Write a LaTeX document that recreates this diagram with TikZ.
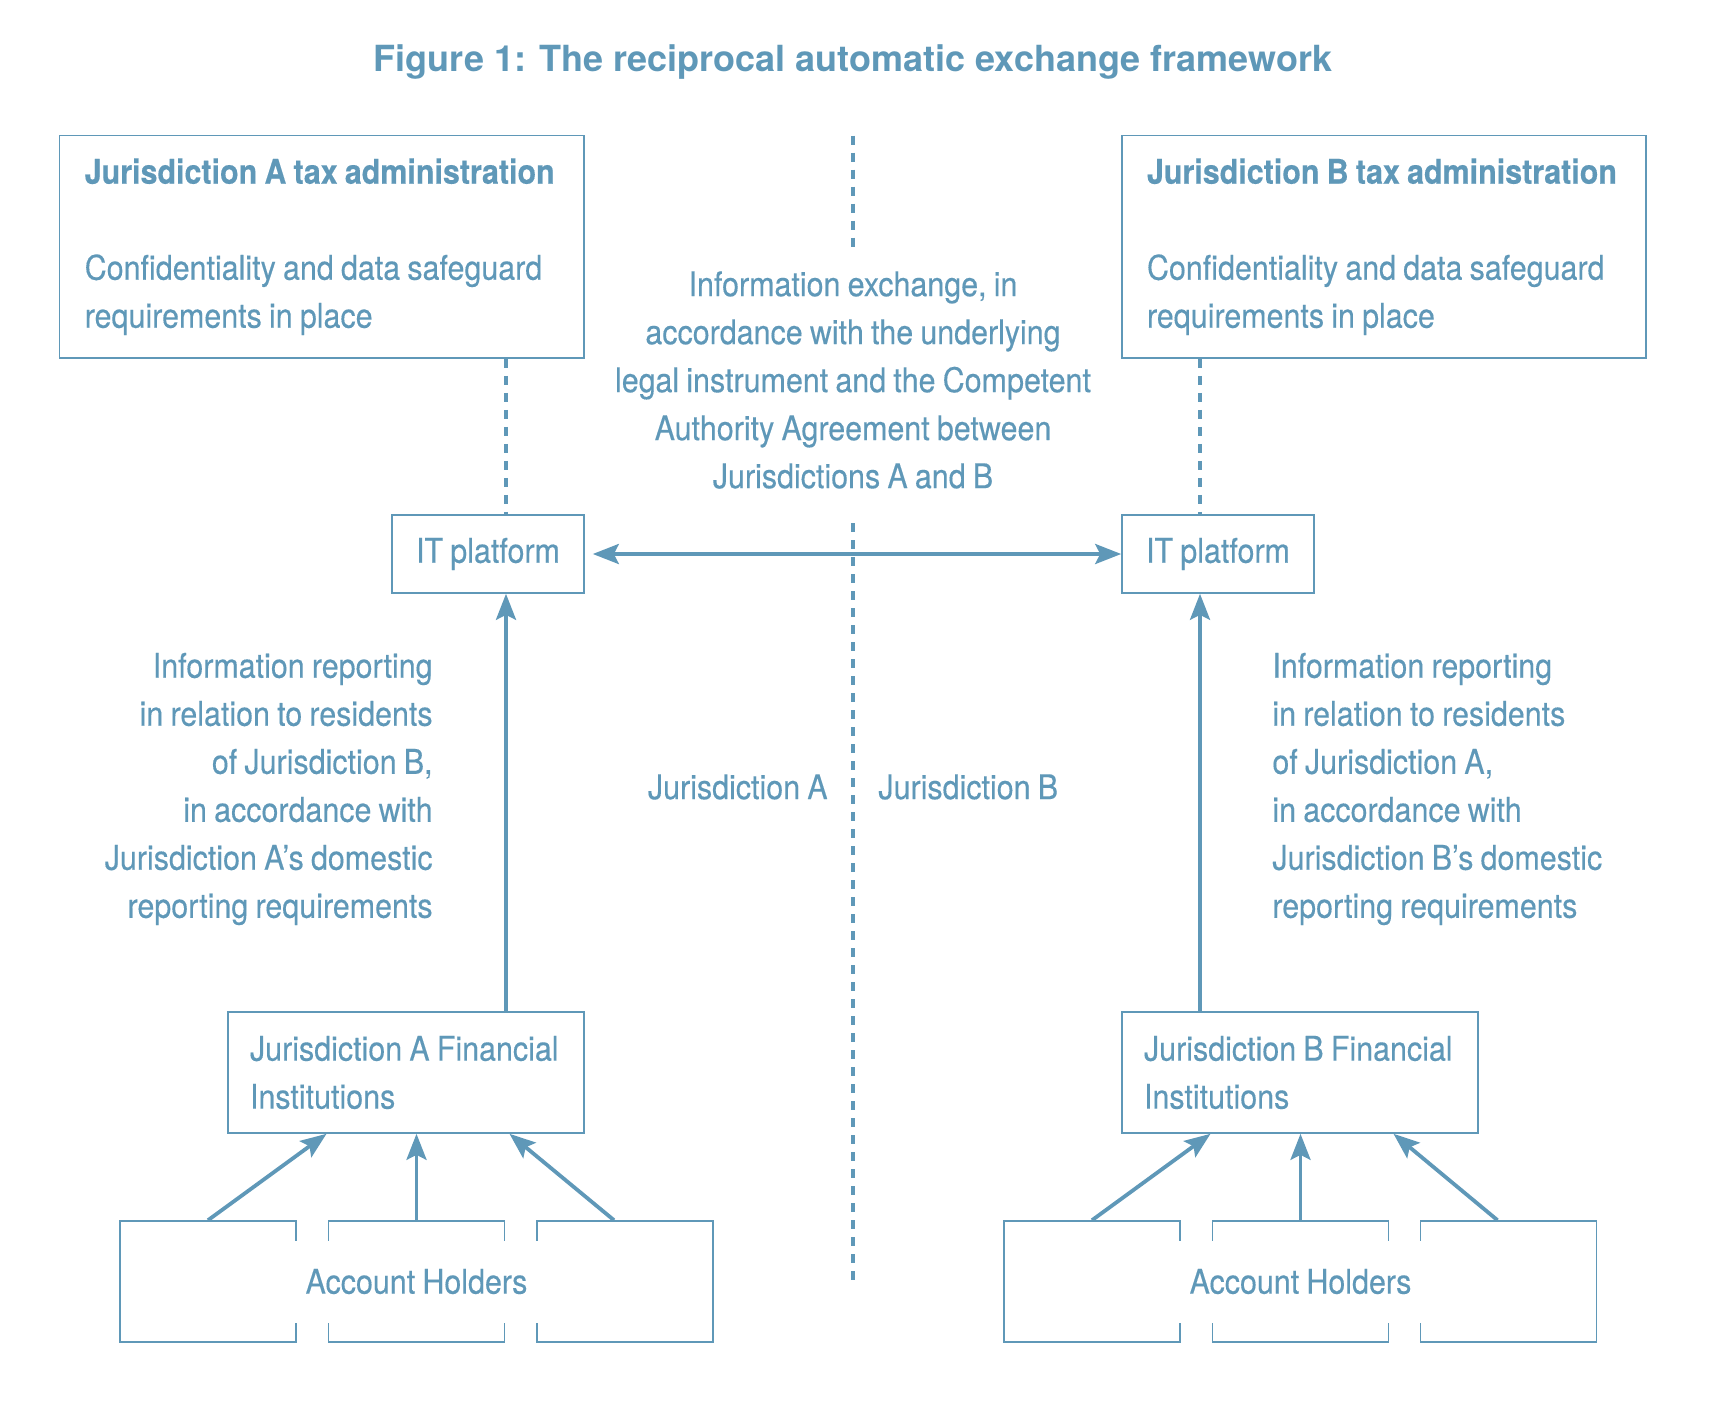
\documentclass[tikz,border=0pt]{standalone}
\usepackage{fontspec}
\setmainfont{TeX Gyre Heros}[FakeStretch=0.895,WordSpace=0.85,FakeBold=0.3]
\newfontfamily\titlefont{TeX Gyre Heros}
\usetikzlibrary{arrows.meta,positioning,calc}
\definecolor{Steel}{HTML}{5F98B8}

\begin{document}
\begin{tikzpicture}[x=.5pt,y=-.5pt,>={Stealth[length=13pt,width=10pt,inset=2.5pt]},
  every node/.style={text=Steel,font=\fontsize{17}{24}\selectfont},
  box/.style={draw=Steel,line width=.8pt,inner xsep=8pt,align=flush left},
  holder/.style={draw=Steel,line width=.8pt,minimum width=88pt,minimum height=60.5pt},
  lbl/.style={inner sep=0pt},
  arr/.style={draw=Steel,line width=1.9pt,->},
  dotline/.style={draw=Steel,line width=1.8pt,dash pattern=on 4.5pt off 4pt}]
\useasboundingbox (0,0) rectangle (1728,1418);
\node[font=\fontsize{18}{24}\titlefont\bfseries] (title) at (853,62) {Figure 1: The reciprocal automatic exchange framework};

\node[box,minimum width=262.25pt,minimum height=111.25pt,text width=237pt] (taxA) at (321.75,246.75)
  {\textbf{Jurisdiction A tax administration}\\[24pt]Confidentiality and data safeguard\\requirements in place};
\node[box,minimum width=262pt,minimum height=111.25pt,text width=237pt] (taxB) at (1384,246.75)
  {\textbf{Jurisdiction B tax administration}\\[24pt]Confidentiality and data safeguard\\requirements in place};
\node[box,align=center,minimum width=96pt,minimum height=39pt] (itA) at (488,554) {IT platform};
\node[box,align=center,minimum width=96pt,minimum height=39pt] (itB) at (1218,554) {IT platform};
\node[box,minimum width=178pt,minimum height=60.5pt,text width=156pt] (fiA) at (406,1072.5) {Jurisdiction A Financial\\Institutions};
\node[box,minimum width=178pt,minimum height=60.5pt,text width=156pt] (fiB) at (1300,1072.5) {Jurisdiction B Financial\\Institutions};

\node[align=center] (info) at (853,380) {Information exchange, in\\accordance with the underlying\\legal instrument and the Competent\\Authority Agreement between\\Jurisdictions A and B};
\node[lbl,align=right,anchor=east] (repA) at (433,789) {Information reporting\\in relation to residents\\of Jurisdiction B,\\in accordance with\\Jurisdiction A’s domestic\\reporting requirements};
\node[lbl,align=left,anchor=west] (repB) at (1272,789) {Information reporting\\in relation to residents\\of Jurisdiction A,\\in accordance with\\Jurisdiction B’s domestic\\reporting requirements};
\node[lbl,anchor=east] (jurA) at (828,787) {Jurisdiction A};
\node[lbl,anchor=west] (jurB) at (878,787) {Jurisdiction B};

\coordinate (colA) at (506,0);
\coordinate (colB) at (1200,0);
\coordinate (divtop) at (853,135.5);
\coordinate (divmid) at (853,251);
\coordinate (divlow) at (853,523);
\coordinate (divbot) at (853,1284);

\draw[dotline] (divtop) -- (divmid);
\draw[dotline] (divlow) -- (divbot);
\draw[dotline] (taxA.south -| colA) -- (itA.north -| colA);
\draw[dotline] (taxB.south -| colB) -- (itB.north -| colB);
\draw[arr] (fiA.north -| colA) -- (itA.south -| colA);
\draw[arr] (fiB.north -| colB) -- (itB.south -| colB);
\draw[arr,<->,shorten <=4pt] (itA.east) -- (itB.west);

\foreach \s/\xa/\xb/\xc in {A/208/416.5/625,B/1092/1300.5/1508.5}{
  \node[holder] (h\s1) at (\xa,1281.5) {};
  \node[holder] (h\s2) at (\xb,1281.5) {};
  \node[holder] (h\s3) at (\xc,1281.5) {};
  \fill[white] ($(h\s1.north east)+(-3,21)$) rectangle ($(h\s3.south west)+(3,-20)$);
  \node (ah\s) at (h\s2) {Account Holders};
  \draw[arr] (h\s1.north) -- ($(fi\s.south -| h\s2)+(-90,0)$);
  \draw[arr] (h\s2.north) -- (fi\s.south -| h\s2);
  \draw[arr] ($(h\s3.north)+(-11,0)$) -- ($(fi\s.south -| h\s2)+(93,0)$);
}
\end{tikzpicture}
\end{document}
